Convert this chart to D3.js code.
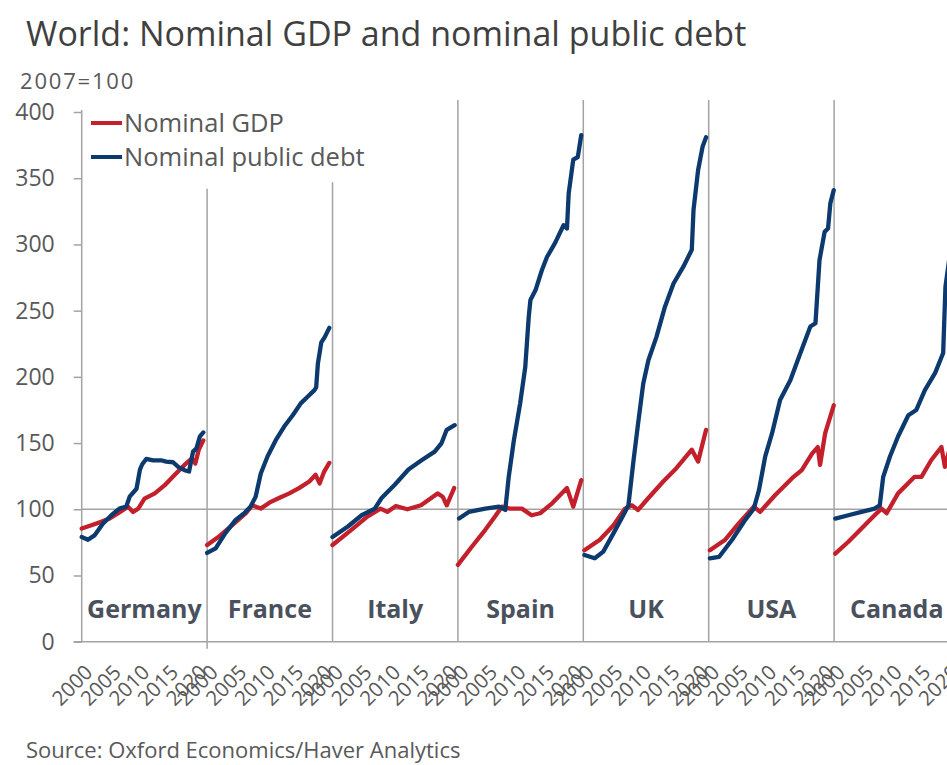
<!DOCTYPE html>
<html>
<head>
<meta charset="utf-8">
<script src="https://cdn.jsdelivr.net/npm/d3@7/dist/d3.min.js"></script>
<style>
  html, body { margin: 0; padding: 0; background: #ffffff; }
  svg { display: block; }
  text { font-family: "Open Sans", "Noto Sans", sans-serif; }
</style>
</head>
<body>
<svg id="chart" width="947" height="765"></svg>
<script>
// ---------------- DATA ----------------
const countries = ["Germany", "France", "Italy", "Spain", "UK", "USA", "Canada"];
const yTicks = [0, 50, 100, 150, 200, 250, 300, 350, 400];
const xTickYears = [2000, 2005, 2010, 2015, 2020];
const dividerTops = [342, 347, 409, 409, 409, 409];

// [year, index 2007=100]
const gdpGermany = [[2000,85.5],[2001.7,88],[2003.4,90.5],[2004.9,93],[2006.4,97],[2008.1,102],[2009,98],[2009.9,100.5],[2011,108],[2012.8,112],[2014.5,118],[2016.3,126],[2018,133.5],[2019.3,138.5],[2019.9,134.5],[2020.5,145],[2021.3,152]];
const debtGermany = [[2000,79],[2001.1,77],[2002.3,80.5],[2003.7,89],[2005.2,95.5],[2006.6,100.5],[2007.8,102],[2008.4,109.5],[2009.6,115.5],[2010.2,130],[2010.6,134],[2011.3,138],[2012.5,137],[2013.9,137],[2014.8,136],[2016,135.5],[2016.9,132],[2018,129.5],[2018.8,128.5],[2019.5,143.5],[2020.1,146],[2020.7,155],[2021.3,158]];

const gdpFrance = [[2000,73],[2002.1,79.5],[2004.4,88],[2006.8,97],[2007.9,103],[2009.4,100.5],[2010.9,105],[2012.6,108.5],[2014.4,112],[2016.1,116],[2017.9,121],[2019,126],[2019.7,119.5],[2020.5,128.5],[2021.4,135]];
const debtFrance = [[2000,67],[2001.5,70.5],[2003.2,82],[2005,92],[2006.5,97],[2007.6,102],[2008.5,109.5],[2009.4,127],[2010.6,140],[2012,152],[2013.5,162.5],[2015,171],[2016.4,180],[2017.6,185],[2018.8,190],[2019.1,192],[2019.4,210],[2020,226],[2020.6,230],[2021.4,237]];

const gdpItaly = [[2000,73],[2003.3,84.5],[2006.1,94.5],[2008.4,100.5],[2009.6,98],[2011.1,102.5],[2013.1,100],[2015.5,103],[2018.4,112],[2019.3,109.5],[2020,103],[2021.3,116]];
const debtItaly = [[2000,79],[2002.7,87],[2005.1,95.5],[2007.4,100.5],[2008.6,108.5],[2010.9,118.5],[2013.3,130],[2015.6,137],[2017.9,143.5],[2019.1,150],[2020,160],[2021.4,163.5]];

const gdpSpain = [[2000,58],[2002.4,71.5],[2004.8,84.5],[2006.5,94.5],[2007.7,102],[2009.1,100.5],[2011.2,100.5],[2012.9,95.5],[2014.4,97],[2016.5,104.5],[2019.1,116],[2020.2,102],[2021.6,122]];
const debtSpain = [[2000.2,93],[2001.9,98],[2004.8,100.5],[2007.2,102],[2008.3,99.5],[2008.9,124.5],[2009.8,152],[2010.9,180],[2011.8,207.5],[2012.4,245],[2012.7,258],[2013.6,265.5],[2014.7,280.5],[2015.6,290.5],[2017,301],[2018.5,314.5],[2019.1,312],[2019.4,338.5],[2020.2,364],[2021,366],[2021.6,382.5]];

const gdpUK = [[2000.2,69],[2002.9,77],[2005.3,88],[2007.3,100.5],[2008.5,103],[2009.6,99.5],[2011.4,108.5],[2014,121],[2016.3,131],[2019,145],[2020.1,136],[2021.5,160]];
const debtUK = [[2000.2,65.5],[2002,63],[2003.5,68],[2005.3,82],[2007,95.5],[2007.9,103],[2008.8,137],[2009.6,165],[2010.5,195],[2011.4,212.5],[2012.8,230],[2014.3,253],[2015.8,270.5],[2017.5,283],[2019,296],[2019.3,326],[2020.1,356],[2020.9,374],[2021.5,381]];

const gdpUSA = [[2000.2,69],[2002.9,77],[2005.3,89.5],[2007.9,102],[2009,98],[2011.7,111],[2014.6,123.5],[2016.3,129.5],[2018.1,142],[2019.1,147],[2019.5,133.5],[2020.4,157.5],[2021.9,178.5]];
const debtUSA = [[2000.2,63],[2001.8,64],[2004.1,77],[2006.4,92],[2007.9,100.5],[2008.8,114.5],[2009.9,140],[2011.1,157.5],[2012.5,182.5],[2014.3,197.5],[2015.8,215],[2017.8,238],[2018.7,240.5],[2019.4,288],[2020.3,309.5],[2020.9,312],[2021.3,331],[2021.9,341]];

const gdpCanada = [[2000.2,66.5],[2002.5,75.5],[2004.8,85.5],[2007.1,95.5],[2008.3,100.5],[2009.2,97],[2011.2,112],[2014.1,124.5],[2015.3,124.5],[2017,137],[2018.8,147],[2019.4,132],[2020.2,145],[2021.6,160]];
const debtCanada = [[2000.2,93],[2002.5,95.5],[2004.8,98],[2007.1,100.5],[2008,103],[2008.6,124.5],[2009.8,140],[2011.2,155],[2013,171],[2014.4,175],[2015.9,190],[2017.7,203],[2019.1,218],[2019.5,268],[2020.2,290],[2021,310],[2021.6,320]];

const gdpSeries = [gdpGermany, gdpFrance, gdpItaly, gdpSpain, gdpUK, gdpUSA, gdpCanada];
const debtSeries = [debtGermany, debtFrance, debtItaly, debtSpain, debtUK, debtUSA, debtCanada];

const seriesNames = ["Nominal GDP", "Nominal public debt"];
const seriesColors = ["#c3202c", "#0c3a6e"];

// ---------------- LAYOUT ----------------
const svg = d3.select("#chart");
const W = 947, H = 765;
svg.append("rect").attr("width", W).attr("height", H).attr("fill", "#fff");

const plotLeft = 81.7, panelW = 125.4, plotTop = 112, plotBottom = 641.7;
const panel = d3.scaleBand().domain(countries).range([plotLeft, plotLeft + panelW * countries.length]).paddingInner(0).paddingOuter(0);
const y = d3.scaleLinear().domain([0, 400]).range([plotBottom, plotTop]);
const xIn = d3.scaleLinear().domain([2000, 2021.96]).range([0, panel.bandwidth()]);

const gridColor = "#a3a3a3";
const textColor = "#595959";

// Title & subtitle
svg.append("text").attr("x", 26).attr("y", 46).attr("font-size", 34).attr("fill", "#404040").text("World: Nominal GDP and nominal public debt");
svg.append("text").attr("x", 20).attr("y", 89).attr("font-size", 22).attr("letter-spacing", 1.8).attr("fill", textColor).text("2007=100");

// 100 reference line
svg.append("line").attr("x1", plotLeft).attr("x2", W).attr("y1", y(100)).attr("y2", y(100)).attr("stroke", gridColor).attr("stroke-width", 1.5);

// Panel dividers
countries.slice(1).forEach((c, i) => {
  const xx = panel(c);
  svg.append("line").attr("x1", xx).attr("x2", xx).attr("y1", y(0)).attr("y2", y(dividerTops[i])).attr("stroke", gridColor).attr("stroke-width", 1.5);
});
// small tick below axis at first divider
svg.append("line").attr("x1", panel(countries[1])).attr("x2", panel(countries[1])).attr("y1", y(0)).attr("y2", y(0) + 7).attr("stroke", gridColor).attr("stroke-width", 1.5);

// Y axis
const yAxis = d3.axisLeft(y).tickValues(yTicks).tickSize(8).tickSizeOuter(0).tickPadding(19);
const gy = svg.append("g").attr("transform", `translate(${plotLeft},0)`).call(yAxis);
gy.select(".domain").attr("stroke", gridColor).attr("stroke-width", 1.5).attr("d", `M0,${plotTop - 2}V${plotBottom}`);
gy.selectAll(".tick line").attr("stroke", gridColor).attr("stroke-width", 1.5);
gy.selectAll(".tick text").attr("font-size", 23).attr("fill", textColor).attr("font-family", "'Open Sans', sans-serif");

// X axis baseline
svg.append("line").attr("x1", plotLeft - 8).attr("x2", W).attr("y1", y(0)).attr("y2", y(0)).attr("stroke", gridColor).attr("stroke-width", 1.5);

// X tick labels per panel
countries.forEach(c => {
  const g = svg.append("g").attr("transform", `translate(${panel(c)},0)`);
  xTickYears.forEach(yr => {
    g.append("text")
      .attr("transform", `translate(${xIn(yr) + 7},${y(0) + 27}) rotate(-45)`)
      .attr("text-anchor", "end")
      .attr("dy", "0.35em")
      .attr("font-size", 20.5)
      .attr("fill", textColor)
      .text(yr);
  });
});

// Lines
const line = d3.line().x(d => xIn(d[0])).y(d => y(d[1]));
countries.forEach((c, i) => {
  const g = svg.append("g").attr("transform", `translate(${panel(c)},0)`);
  [gdpSeries[i], debtSeries[i]].forEach((s, k) => {
    g.append("path").datum(s).attr("d", line).attr("fill", "none")
      .attr("stroke", seriesColors[k]).attr("stroke-width", 4.3)
      .attr("stroke-linejoin", "round").attr("stroke-linecap", "round");
  });
  g.append("text").attr("x", panel.bandwidth() / 2).attr("y", 618)
    .attr("text-anchor", "middle").attr("font-size", 25).attr("font-weight", "bold")
    .attr("fill", "#4a515c").text(c);
});

// Legend
const legend = svg.append("g");
seriesNames.forEach((n, i) => {
  const ly = 123 + i * 34;
  legend.append("line").attr("x1", 91).attr("x2", 122).attr("y1", ly).attr("y2", ly)
    .attr("stroke", seriesColors[i]).attr("stroke-width", 4);
  legend.append("text").attr("x", 124).attr("y", ly + 9).attr("font-size", 25.5).attr("fill", textColor).text(n);
});

// Source
svg.append("text").attr("x", 26).attr("y", 758).attr("font-size", 22).attr("fill", textColor).text("Source: Oxford Economics/Haver Analytics");
</script>
</body>
</html>
